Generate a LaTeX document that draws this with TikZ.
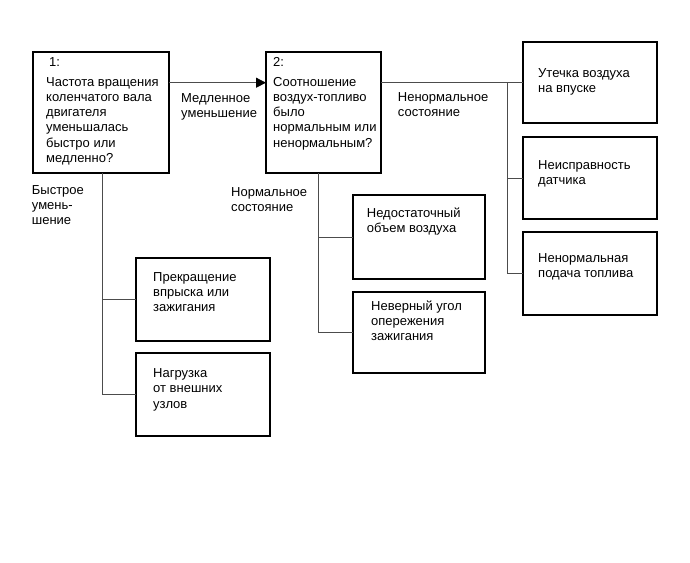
\documentclass[tikz,border=0pt]{standalone}
\usepackage{fontspec}
\setmainfont{Liberation Sans}
\usetikzlibrary{arrows.meta}
\newcommand\ml[1]{\begin{tabular}[t]{@{}l@{}}#1\end{tabular}}
\begin{document}
\begin{tikzpicture}[x=1pt,y=-1pt,
  box/.style={draw=black, line width=1.5pt, anchor=north west, inner sep=0pt, outer sep=0pt},
  conn/.style={draw=black!70, line width=0.8pt},
  txt/.style={anchor=base west, inner sep=0pt, font=\fontsize{13}{15.3}\selectfont},
]
\useasboundingbox (0,0) rectangle (690,562);
% boxes
\node[box, minimum width=136pt, minimum height=121pt] (b1) at (33,52) {};
\node[box, minimum width=115pt, minimum height=121pt] (b2) at (266,52) {};
\node[box, minimum width=134pt, minimum height=81pt] (r1) at (523,42) {};
\node[box, minimum width=134pt, minimum height=82pt] (r2) at (523,137) {};
\node[box, minimum width=134pt, minimum height=83pt] (r3) at (523,232) {};
\node[box, minimum width=132pt, minimum height=84pt] (n1) at (353,195) {};
\node[box, minimum width=132pt, minimum height=81pt] (n2) at (353,292) {};
\node[box, minimum width=134pt, minimum height=83pt] (p1) at (136,258) {};
\node[box, minimum width=134pt, minimum height=83pt] (p2) at (136,353) {};
% texts
\node[txt] (b1n) at (49,66.7) {1:};
\node[txt] (b1t) at (46,86) {\ml{Частота вращения\\коленчатого вала\\двигателя\\уменьшалась\\быстро или\\медленно?}};
\node[txt] (b2n) at (273,66.7) {2:};
\node[txt] (b2t) at (273,86) {\ml{Соотношение\\воздух-топливо\\было\\нормальным или\\ненормальным?}};
\node[txt] (r1t) at (538,77.5) {\ml{Утечка воздуха\\на впуске}};
\node[txt] (r2t) at (538,169) {\ml{Неисправность\\датчика}};
\node[txt] (r3t) at (538,262) {\ml{Ненормальная\\подача топлива}};
\node[txt] (n1t) at (366.7,217.5) {\ml{Недостаточный\\объем воздуха}};
\node[txt] (n2t) at (371,310) {\ml{Неверный угол\\опережения\\зажигания}};
\node[txt] (p1t) at (153,281) {\ml{Прекращение\\впрыска или\\зажигания}};
\node[txt] (p2t) at (153,377.5) {\ml{Нагрузка\\от внешних\\узлов}};
% labels
\node[txt] (slow) at (181,102) {\ml{Медленное\\уменьшение}};
\node[txt] (abn) at (397.7,101) {\ml{Ненормальное\\состояние}};
\node[txt] (norm) at (231,196) {\ml{Нормальное\\состояние}};
\node[txt] (fast) at (31.7,194) {\ml{Быстрое\\умень-\\шение}};
% connectors
\coordinate (ya) at (0,82.7);
\coordinate (jr) at (507,82.7);
\coordinate (jb1) at (102,0);
\coordinate (jb2) at (318,0);
\draw[conn, -{Triangle[length=10pt,width=10pt,color=black]}] (b1.east |- ya) -- (b2.west |- ya);
\draw[conn] (b2.east |- ya) -- (jr) -- (jr |- r3.west) -- (r3.west);
\draw[conn] (jr) -- (r1.west |- ya);
\draw[conn] (jr |- r2.west) -- (r2.west);
\draw[conn] (b1.south -| jb1) -- (jb1 |- p2.west) -- (p2.west);
\draw[conn] (jb1 |- p1.west) -- (p1.west);
\draw[conn] (b2.south -| jb2) -- (jb2 |- n2.west) -- (n2.west);
\draw[conn] (jb2 |- n1.west) -- (n1.west);
\end{tikzpicture}
\end{document}
